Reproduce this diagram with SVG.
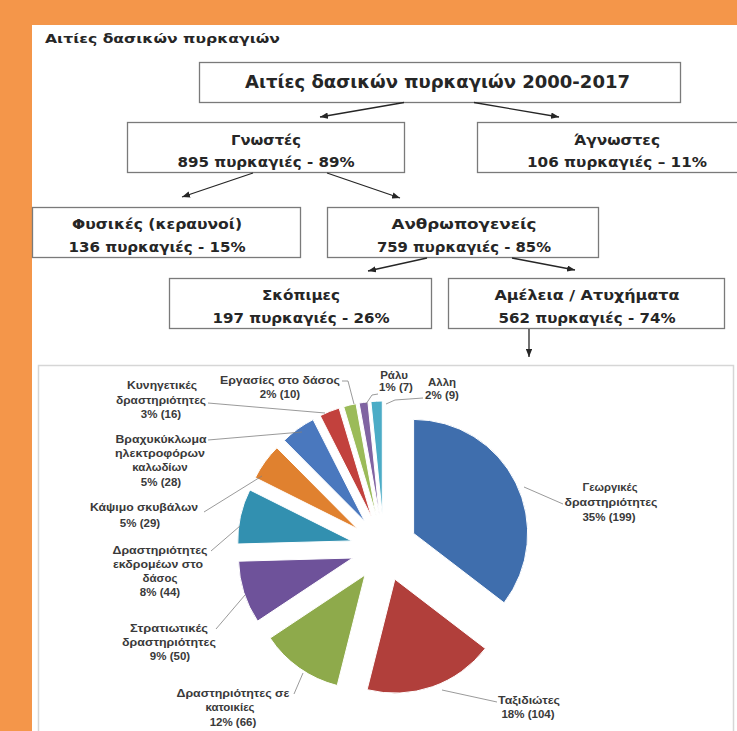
<svg xmlns="http://www.w3.org/2000/svg" width="737" height="731" viewBox="0 0 737 731">
<defs>
<style>
.bg{fill:#F4964A}
.panel{fill:#ffffff}
.box{fill:#ffffff;stroke:#7a7a7a;stroke-width:1.3}
.t{font-family:"DejaVu Sans","Liberation Sans",sans-serif;font-weight:bold;fill:#262626;text-anchor:middle}
.b{font-size:14.5px}
.c{stroke:#262626;stroke-width:1.3;fill:none}
.frame{fill:#ffffff;stroke:#d6d6d6;stroke-width:1.5}
.lbl{font-family:"Liberation Sans","DejaVu Sans",sans-serif;font-weight:bold;font-size:11.5px;fill:#3a3a3a;text-anchor:middle}
.lead{stroke:#808080;stroke-width:0.8;fill:none}
.s{stroke:#ffffff;stroke-width:1}
</style>
<marker id="ah" viewBox="0 0 10 8" refX="10" refY="4" markerWidth="8" markerHeight="6.4" markerUnits="userSpaceOnUse" orient="auto"><path d="M0,0 L10,4 L0,8 z" fill="#262626"/></marker>
</defs>

<rect class="bg" x="0" y="0" width="737" height="731"/>
<rect class="panel" x="32" y="25" width="705" height="706"/>

<text class="t" x="162.5" y="42.5" font-size="13" textLength="235" lengthAdjust="spacingAndGlyphs">Αιτίες δασικών πυρκαγιών</text>

<g id="root">
<rect class="box" x="199.5" y="62.5" width="481" height="40"/>
<text class="t" x="437.5" y="88" font-size="17" textLength="385" lengthAdjust="spacingAndGlyphs">Αιτίες δασικών πυρκαγιών 2000-2017</text>
</g>

<g id="known">
<rect class="box" x="127.5" y="122.5" width="277" height="50"/>
<text class="t b" x="266" y="144.5" textLength="70" lengthAdjust="spacingAndGlyphs">Γνωστές</text>
<text class="t b" x="266" y="167" textLength="177" lengthAdjust="spacingAndGlyphs">895 πυρκαγιές - 89%</text>
</g>

<g id="unknown">
<rect class="box" x="477.5" y="122.5" width="268" height="50"/>
<text class="t b" x="617" y="144.5" textLength="86" lengthAdjust="spacingAndGlyphs">Άγνωστες</text>
<text class="t b" x="617" y="167" textLength="180" lengthAdjust="spacingAndGlyphs">106 πυρκαγιές – 11%</text>
</g>

<g id="natural">
<rect class="box" x="32.5" y="207.5" width="268" height="50"/>
<text class="t b" x="157" y="229" textLength="170" lengthAdjust="spacingAndGlyphs">Φυσικές (κεραυνοί)</text>
<text class="t b" x="157" y="251.5" textLength="177" lengthAdjust="spacingAndGlyphs">136 πυρκαγιές - 15%</text>
</g>

<g id="human">
<rect class="box" x="327.5" y="207.5" width="271" height="50"/>
<text class="t b" x="464" y="229" textLength="145" lengthAdjust="spacingAndGlyphs">Ανθρωπογενείς</text>
<text class="t b" x="464" y="251.5" textLength="174" lengthAdjust="spacingAndGlyphs">759 πυρκαγιές - 85%</text>
</g>

<g id="intentional">
<rect class="box" x="169.5" y="278.5" width="262" height="50"/>
<text class="t b" x="301" y="300" textLength="78" lengthAdjust="spacingAndGlyphs">Σκόπιμες</text>
<text class="t b" x="301" y="323" textLength="177" lengthAdjust="spacingAndGlyphs">197 πυρκαγιές - 26%</text>
</g>

<g id="negligence">
<rect class="box" x="448.5" y="278.5" width="276" height="50"/>
<text class="t b" x="587" y="300" textLength="185" lengthAdjust="spacingAndGlyphs">Αμέλεια / Ατυχήματα</text>
<text class="t b" x="587" y="323" textLength="177" lengthAdjust="spacingAndGlyphs">562 πυρκαγιές - 74%</text>
</g>

<g id="connectors">
<line class="c" x1="404" y1="102.5" x2="320" y2="117" marker-end="url(#ah)"/>
<line class="c" x1="474" y1="102.5" x2="559" y2="117" marker-end="url(#ah)"/>
<line class="c" x1="253" y1="173" x2="182" y2="197" marker-end="url(#ah)"/>
<line class="c" x1="327" y1="173" x2="400" y2="198" marker-end="url(#ah)"/>
<line class="c" x1="427" y1="258" x2="368" y2="271" marker-end="url(#ah)"/>
<line class="c" x1="512" y1="258" x2="575" y2="270" marker-end="url(#ah)"/>
<line class="c" x1="529" y1="329" x2="529" y2="357" marker-end="url(#ah)"/>
</g>

<g id="chart">
<rect class="frame" x="38.5" y="365.5" width="695" height="380"/>
<g id="slices">
<path class="s" fill="#3F6EAD" d="M413.6,533.4 L413.6,419.4 A114,114 0 0 1 504.1,602.8 Z"/>
<path class="s" fill="#B13F3B" d="M394.9,579.2 L485.3,648.5 A114,114 0 0 1 367.1,689.7 Z"/>
<path class="s" fill="#8EAA4B" d="M365.0,575.0 L337.2,685.5 A114,114 0 0 1 270.1,638.1 Z"/>
<path class="s" fill="#6E529A" d="M352.6,558.0 L257.6,621.1 A114,114 0 0 1 238.6,561.2 Z"/>
<path class="s" fill="#3290B0" d="M351.8,540.9 L237.8,544.0 A114,114 0 0 1 249.8,489.9 Z"/>
<path class="s" fill="#E0812F" d="M357.3,528.7 L255.3,477.7 A114,114 0 0 1 276.9,447.8 Z"/>
<path class="s" fill="#4A78BE" d="M364.7,521.3 L284.3,440.4 A114,114 0 0 1 313.1,419.6 Z"/>
<path class="s" fill="#C2413D" d="M371.8,517.4 L320.2,415.7 A114,114 0 0 1 339.1,408.1 Z"/>
<path class="s" fill="#9BBB59" d="M376.3,515.9 L343.7,406.7 A114,114 0 0 1 356.0,403.7 Z"/>
<path class="s" fill="#8064A2" d="M379.4,515.3 L359.1,403.1 A114,114 0 0 1 367.9,401.9 Z"/>
<path class="s" fill="#4BACC6" d="M382.3,515.0 L370.9,401.6 A114,114 0 0 1 382.3,401.0 Z"/>
</g>
<g id="leaders">
<polyline class="lead" points="524,487 563,504"/>
<polyline class="lead" points="442,690 497,702"/>
<polyline class="lead" points="303,673 294,694"/>
<polyline class="lead" points="245,595 216,629"/>
<polyline class="lead" points="240,526 211,551"/>
<polyline class="lead" points="262,476 204,512"/>
<polyline class="lead" points="302,432 208,440"/>
<polyline class="lead" points="325,413 208,403"/>
<polyline class="lead" points="354,404 348,381 342,381"/>
<polyline class="lead" points="366,404 372,395 378,394"/>
<polyline class="lead" points="386,404 395,400 423,398"/>
</g>
<g id="labels">
<text class="lbl" x="610" y="491" textLength="55" lengthAdjust="spacingAndGlyphs">Γεωργικές</text>
<text class="lbl" x="611" y="506" textLength="93" lengthAdjust="spacingAndGlyphs">δραστηριότητες</text>
<text class="lbl" x="609" y="521">35% (199)</text>
<text class="lbl" x="529" y="704" textLength="62" lengthAdjust="spacingAndGlyphs">Ταξιδιώτες</text>
<text class="lbl" x="528" y="718">18% (104)</text>
<text class="lbl" x="233" y="697" textLength="113" lengthAdjust="spacingAndGlyphs">Δραστηριότητες σε</text>
<text class="lbl" x="230" y="711">κατοικίες</text>
<text class="lbl" x="233" y="726">12% (66)</text>
<text class="lbl" x="169" y="632" textLength="78" lengthAdjust="spacingAndGlyphs">Στρατιωτικές</text>
<text class="lbl" x="169" y="646" textLength="94" lengthAdjust="spacingAndGlyphs">δραστηριότητες</text>
<text class="lbl" x="170" y="660">9% (50)</text>
<text class="lbl" x="160" y="554" textLength="95" lengthAdjust="spacingAndGlyphs">Δραστηριότητες</text>
<text class="lbl" x="158" y="568" textLength="90" lengthAdjust="spacingAndGlyphs">εκδρομέων στο</text>
<text class="lbl" x="160" y="582">δάσος</text>
<text class="lbl" x="160" y="596">8% (44)</text>
<text class="lbl" x="144" y="511" textLength="108" lengthAdjust="spacingAndGlyphs">Κάψιμο σκυβάλων</text>
<text class="lbl" x="140" y="527">5% (29)</text>
<text class="lbl" x="161" y="443" textLength="91" lengthAdjust="spacingAndGlyphs">Βραχυκύκλωμα</text>
<text class="lbl" x="160" y="457" textLength="90" lengthAdjust="spacingAndGlyphs">ηλεκτροφόρων</text>
<text class="lbl" x="160" y="471">καλωδίων</text>
<text class="lbl" x="161" y="486">5% (28)</text>
<text class="lbl" x="162" y="389" textLength="70" lengthAdjust="spacingAndGlyphs">Κυνηγετικές</text>
<text class="lbl" x="161" y="404" textLength="90" lengthAdjust="spacingAndGlyphs">δραστηριότητες</text>
<text class="lbl" x="161" y="418">3% (16)</text>
<text class="lbl" x="280" y="384" textLength="120" lengthAdjust="spacingAndGlyphs">Εργασίες στο δάσος</text>
<text class="lbl" x="280" y="398">2% (10)</text>
<text class="lbl" x="394" y="379">Ράλυ</text>
<text class="lbl" x="396" y="391">1% (7)</text>
<text class="lbl" x="442" y="386">Αλλη</text>
<text class="lbl" x="442" y="399">2% (9)</text>
</g>
</g>
</svg>
